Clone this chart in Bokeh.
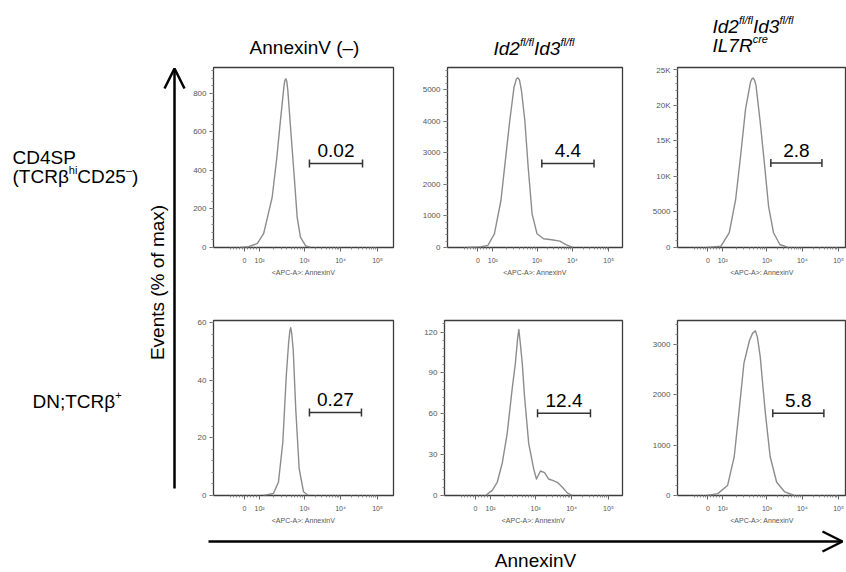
import numpy as np
from bokeh.plotting import figure
from bokeh.layouts import row, column
from bokeh.models import Range1d, FixedTicker, SingleIntervalTicker, Arrow, OpenHead
from bokeh.core.properties import value
from bokeh.embed import file_html
from bokeh.resources import INLINE

FONT = "Liberation Sans"

# ---------------- data ----------------
# x axis: display channel (0-1000 across a panel) of each labelled value
X_TICK_VALUES = [0, 100, 1000, 10000, 100000]
X_TICK_LABELS = ["0", "10²", "10³", "10⁴", "10⁵"]
X_TICK_CHANNEL = [172, 256, 506, 706, 911]

# histograms (x in display channel, y in events)
P1_X = [150, 194, 244, 279, 326, 350, 372, 391, 396, 402, 407, 413, 428, 446, 465, 483, 511, 539]
P1_Y = [0, 4, 21, 73, 261, 452, 660, 833, 867, 876, 864, 815, 625, 400, 157, 54, 10, 0]

P2_X = [111, 183, 228, 265, 302, 329, 352, 376, 389, 398, 407, 418, 437, 456, 478, 506, 543, 589, 635, 672, 709]
P2_Y = [0, 20, 63, 433, 1487, 2858, 4019, 5073, 5330, 5370, 5300, 4968, 4019, 2541, 1066, 433, 275, 244, 200, 85, 0]

P3_X = [167, 246, 293, 329, 357, 385, 413, 421, 428, 436, 444, 468, 493, 515, 543, 579, 626]
P3_Y = [0, 184, 2076, 6780, 12900, 19490, 23260, 23700, 23830, 23500, 22780, 17610, 11480, 5830, 2076, 424, 0]

P4_X = [278, 333, 361, 385, 404, 417, 424, 429, 435, 443, 457, 476, 500, 528]
P4_Y = [0, 0.7, 4.7, 18.4, 41.2, 52.7, 57.0, 58.2, 56.0, 50.4, 29.8, 9.3, 1.3, 0]

P5_X = [228, 265, 293, 321, 348, 376, 394, 406, 413, 421, 432, 444, 468, 496, 511, 533, 556, 579, 604, 626, 654, 682, 709]
P5_Y = [0, 3.8, 9.7, 23.9, 45.2, 78.3, 97.3, 115, 122, 112, 97.3, 73.6, 38.1, 19.2, 12.1, 18, 16.8, 12.1, 10.9, 9.7, 6.2, 1.9, 0]

P6_X = [167, 228, 283, 321, 348, 376, 407, 425, 441, 452, 468, 496, 524, 561, 607, 661]
P6_Y = [0, 38, 198, 775, 1673, 2635, 3083, 3230, 3275, 3150, 2763, 1673, 775, 263, 71, 0]

# gates
GATE_LO = [533, 533, 528, 533, 517, 539]
GATE_HI = [828, 828, 817, 822, 811, 828]
GATE_Y = [436, 2658, 11864, 28.8, 60.4, 1635]
GATE_LABELS = ["0.02", "4.4", "2.8", "0.27", "12.4", "5.8"]

# y axes
Y_MAX = [935, 5696, 25300, 60.7, 128.5, 3481]
Y_STEP = [200, 1000, 5000, 20, 30, 1000]
P3_Y_LABELS = {0: "0", 5000: "5000", 10000: "10K", 15000: "15K", 20000: "20K", 25000: "25K"}

X_LABEL = "<APC-A>: AnnexinV"
Y_TITLE = "Events (% of max)"
X_TITLE = "AnnexinV"

CURVES = [(P1_X, P1_Y), (P2_X, P2_Y), (P3_X, P3_Y), (P4_X, P4_Y), (P5_X, P5_Y), (P6_X, P6_Y)]


def to_channel(v):
    v = np.asarray(v, float)
    c0, c2 = X_TICK_CHANNEL[0], X_TICK_CHANNEL[1]
    lin = c0 + v / 100.0 * (c2 - c0)
    logp = np.interp(np.log10(np.maximum(v, 100)), [2, 3, 4, 5], X_TICK_CHANNEL[1:])
    return np.where(v <= 100, lin, logp)


MINOR_VALUES = [-90, -70, -50, -30, -15, 20, 40, 60, 80] + [m * 10 ** k for k in (2, 3, 4) for m in range(2, 10)]
MINOR_CH = [float(c) for c in to_channel(MINOR_VALUES)]

# ---------------- helpers ----------------
WID = {"I": .278, "d": .556, "2": .556, "3": .556, "f": .278, "l": .222, "/": .278,
       "L": .556, "7": .556, "R": .722, "c": .5, "r": .333, "e": .556, "(": .333,
       ")": .333, "T": .611, "C": .722, "β": .575, "h": .556, "i": .222, "D": .722,
       "5": .556, "–": .556, "N": .722, ";": .278, "+": .584, "P": .667, "S": .667,
       "4": .556, " ": .278}


def twidth(s, size):
    return sum(WID.get(ch, 0.556) for ch in s) * size


def rich(p, x, y, runs, italic=False):
    for txt, size, rise in runs:
        p.text(x=[x], y=[y], text=[txt], text_font=value(FONT), text_font_size=f"{size}px",
               text_font_style="italic" if italic else "normal",
               text_baseline="alphabetic", text_align="left", y_offset=-rise, text_color="black")
        x += twidth(txt, size)


def blank(w, h, x0, x1, y0, y1):
    p = figure(width=w, height=h, x_range=Range1d(x0, x1), y_range=Range1d(y0, y1),
               x_axis_type=None, y_axis_type=None, output_backend="svg",
               toolbar_location=None, min_border=0, outline_line_color=None)
    p.grid.visible = False
    return p


def panel(i, w, h, bl, br, bt, bb, xend):
    p = figure(width=w, height=h, x_range=Range1d(0, xend), y_range=Range1d(0, Y_MAX[i]),
               output_backend="svg", toolbar_location=None,
               min_border_left=bl, min_border_right=br, min_border_top=bt, min_border_bottom=bb)
    p.grid.visible = False
    p.outline_line_color = "#3c3c3c"
    p.outline_line_width = 1.3
    xa = p.xaxis[0]
    xa.ticker = FixedTicker(ticks=X_TICK_CHANNEL, minor_ticks=MINOR_CH)
    xa.major_label_overrides = {c: l for c, l in zip(X_TICK_CHANNEL, X_TICK_LABELS)}
    xa.axis_label = X_LABEL
    xa.axis_label_text_font = FONT
    xa.axis_label_text_font_size = "7px"
    xa.axis_label_text_font_style = "normal"
    xa.axis_label_text_color = "#555555"
    xa.axis_label_standoff = 2
    xa.major_label_standoff = 5
    ya = p.yaxis[0]
    ya.ticker = SingleIntervalTicker(interval=Y_STEP[i], num_minor_ticks=5)
    ya.major_label_standoff = 3
    if i == 2:
        ya.major_label_overrides = P3_Y_LABELS
    for ax in (xa, ya):
        ax.axis_line_color = None
        ax.major_tick_out = 4
        ax.major_tick_in = 0
        ax.minor_tick_out = 2
        ax.minor_tick_in = 0
        ax.major_tick_line_color = "#666666"
        ax.minor_tick_line_color = "#888888"
        ax.major_label_text_font = FONT
        ax.major_label_text_color = "#555555"
    xa.major_label_text_font_size = "7px"
    ya.major_label_text_font_size = "8px"

    cx, cy = CURVES[i]
    p.line(cx, cy, line_color="#8c8c8c", line_width=1.4, line_join="round")
    lo, hi, gy = GATE_LO[i], GATE_HI[i], GATE_Y[i]
    p.segment(x0=[lo], y0=[gy], x1=[hi], y1=[gy], line_color="#333333", line_width=1.5)
    p.scatter(x=[lo, hi], y=[gy, gy], marker="dash", angle=np.pi / 2, size=8,
              line_color="#333333", line_width=1.5)
    p.text(x=[(lo + hi) / 2], y=[gy], text=[GATE_LABELS[i]], text_font=value(FONT),
           text_font_size="19px", text_align="center", text_baseline="alphabetic",
           y_offset=-13, text_color="black")
    return p


# ---------------- layout ----------------
WIDTHS = [231, 230, 197]
BR = [26, 27, 0]
XEND = [1000, 989, 956]

top = [panel(j, WIDTHS[j], 250, 25, BR[j], 2, 68, XEND[j]) for j in range(3)]
bot = [panel(3 + j, WIDTHS[j], 211, 25, BR[j], 5 if j == 0 else 1, 29, XEND[j]) for j in range(3)]

# column headers
hdr = blank(658, 65, 188, 846, 65, 0)
hdr.text(x=[304], y=[47], text=["AnnexinV (–)"], text_font=value(FONT), text_font_size="19px",
         text_align="center", text_baseline="alphabetic", text_color="black")
rich(hdr, 493, 48, [("Id2", 19, 0), ("fl/fl", 11, 7), ("Id3", 19, 0), ("fl/fl", 11, 7)], italic=True)
rich(hdr, 712, 26, [("Id2", 19, 0), ("fl/fl", 11, 7), ("Id3", 19, 0), ("fl/fl", 11, 7)], italic=True)
rich(hdr, 712, 45, [("IL7R", 19, 0), ("cre", 11, 7)], italic=True)

# row labels, y title and vertical arrow
left = blank(188, 572, 0, 188, 572, 0)
left.text(x=[12], y=[157], text=["CD4SP"], text_font=value(FONT), text_font_size="19px",
          text_baseline="alphabetic", text_color="black")
rich(left, 12, 176, [("(TCRβ", 19, 0), ("hi", 11, 7), ("CD25", 19, 0), ("–", 11, 7), (")", 19, 0)])
rich(left, 32, 401, [("DN;TCRβ", 19, 0), ("+", 11, 7)])
left.text(x=[157], y=[282], text=[Y_TITLE], text_font=value(FONT), text_font_size="19px",
          text_align="center", text_baseline="middle", angle=np.pi / 2, text_color="black")
left.add_layout(Arrow(end=OpenHead(size=20, line_width=2.5, line_color="black"),
                      x_start=174, y_start=488, x_end=174, y_end=68, line_width=2.5, line_color="black"))

# x title and horizontal arrow
bottom = blank(658, 46, 188, 846, 572, 526)
bottom.add_layout(Arrow(end=OpenHead(size=20, line_width=2.5, line_color="black"),
                        x_start=208, y_start=541, x_end=842, y_end=541, line_width=2.5, line_color="black"))
bottom.text(x=[535], y=[560], text=[X_TITLE], text_font=value(FONT), text_font_size="19px",
            text_align="center", text_baseline="alphabetic", text_color="black")

layout = row(left, column(hdr, row(*top), row(*bot), bottom))
open("out.html", "w").write(file_html(layout, INLINE))
